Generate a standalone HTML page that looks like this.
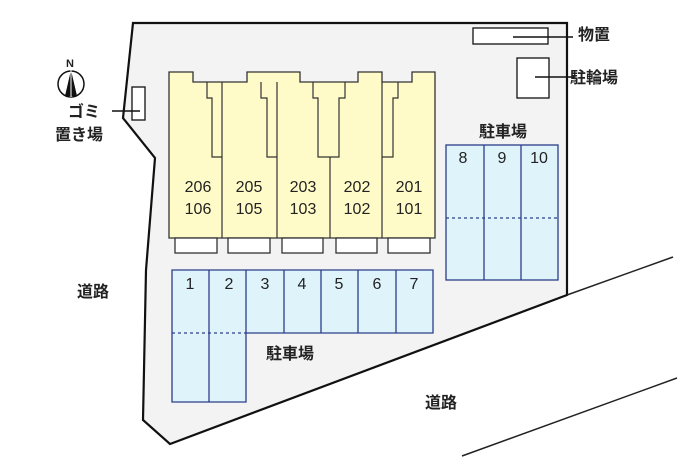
<!DOCTYPE html>
<html><head><meta charset="utf-8"><style>
html,body{margin:0;padding:0;background:#fff;width:700px;height:466px;overflow:hidden}
text{font-family:"Liberation Sans","Noto Sans CJK JP",sans-serif;fill:#222}
.j{font-weight:bold;font-size:16px}
.n{font-size:16px}
</style></head><body>
<svg width="700" height="466" viewBox="0 0 700 466" xmlns="http://www.w3.org/2000/svg">
<polygon points="133,23 567,23 567,295 170,444 143,420 146,270 155,158 123,118" fill="#f3f3f3" stroke="#111" stroke-width="2.2"/>
<line x1="567" y1="295" x2="673" y2="257" stroke="#222" stroke-width="1.5"/>
<line x1="462" y1="456" x2="677" y2="378" stroke="#222" stroke-width="1.5"/>
<!-- buildings -->
<g fill="#fffbc8" stroke="#333" stroke-width="1.3">
<polygon points="169,72 193,72 193,82 247,82 247,72 300,72 300,82 358,82 358,72 382,72 382,82 412,82 412,72 435,72 435,238 169,238"/>
</g>
<g fill="none" stroke="#333" stroke-width="1.2">
<line x1="222" y1="82" x2="222" y2="238"/><line x1="277" y1="82" x2="277" y2="238"/>
<line x1="330" y1="157" x2="330" y2="238"/><line x1="382" y1="82" x2="382" y2="238"/>
<polyline points="207,82 207,98 212,98 212,157 222,157"/>
<polyline points="261,82 261,98 267,98 267,157 277,157"/>
<polyline points="313,82 313,98 318,98 318,157 339,157 339,98 345,98 345,82"/>
<polyline points="398,82 398,98 393,98 393,157 382,157"/>
</g>
<g fill="#fff" stroke="#333" stroke-width="1.3">
<rect x="175" y="238" width="42" height="15"/><rect x="228" y="238" width="42" height="15"/>
<rect x="282" y="238" width="41" height="15"/><rect x="336" y="238" width="41" height="15"/>
<rect x="388" y="238" width="42" height="15"/>
</g>
<g class="n" text-anchor="middle">
<text x="198" y="192">206</text><text x="198" y="214">106</text>
<text x="249" y="192">205</text><text x="249" y="214">105</text>
<text x="303" y="192">203</text><text x="303" y="214">103</text>
<text x="357" y="192">202</text><text x="357" y="214">102</text>
<text x="409" y="192">201</text><text x="409" y="214">101</text>
</g>
<!-- parking 8-10 -->
<g stroke="#2b3e8a" stroke-width="1.3" fill="#dff3fb">
<rect x="446" y="145" width="112" height="135"/>
<line x1="484" y1="145" x2="484" y2="280"/><line x1="521" y1="145" x2="521" y2="280"/>
<line x1="446" y1="218" x2="558" y2="218" stroke-dasharray="3,3"/>
<polygon points="172,270 433,270 433,333 246,333 246,402 172,402"/>
<line x1="209" y1="270" x2="209" y2="402"/><line x1="246" y1="270" x2="246" y2="333"/>
<line x1="284" y1="270" x2="284" y2="333"/><line x1="321" y1="270" x2="321" y2="333"/>
<line x1="358" y1="270" x2="358" y2="333"/><line x1="396" y1="270" x2="396" y2="333"/>
<line x1="172" y1="333" x2="246" y2="333" stroke-dasharray="3,3"/>
</g>
<g class="n" text-anchor="middle">
<text x="463" y="163">8</text><text x="502" y="163">9</text><text x="539" y="163">10</text>
<text x="190" y="289">1</text><text x="229" y="289">2</text><text x="265" y="289">3</text>
<text x="302" y="289">4</text><text x="339" y="289">5</text><text x="377" y="289">6</text><text x="414" y="289">7</text>
</g>
<g class="j" text-anchor="middle">
<text x="503" y="137">駐車場</text><text x="290" y="359">駐車場</text>
<text x="93" y="297">道路</text><text x="441" y="408">道路</text>
</g>
<!-- shed / bike -->
<g fill="#fff" stroke="#111" stroke-width="1.3">
<rect x="473" y="28" width="75" height="16"/><rect x="517" y="58" width="32" height="40"/>
</g>
<line x1="513" y1="37" x2="573" y2="37" stroke="#111" stroke-width="1.5"/>
<line x1="535" y1="77" x2="575" y2="77" stroke="#111" stroke-width="1.5"/>
<text class="j" x="578" y="40">物置</text>
<text class="j" x="570" y="83">駐輪場</text>
<!-- trash -->
<rect x="132" y="87" width="13" height="33" fill="#fff" stroke="#111" stroke-width="1.3"/>
<line x1="112" y1="111" x2="140" y2="111" stroke="#111" stroke-width="1.5"/>
<text class="j" x="68" y="117">ゴミ</text>
<text class="j" x="55" y="140">置き場</text>
<!-- compass -->
<circle cx="71" cy="84" r="13" fill="#fff" stroke="#111" stroke-width="1.5"/>
<polygon points="71,70 65,96 77,96" fill="#111"/>
<line x1="71" y1="70" x2="71" y2="97" stroke="#fff" stroke-width="1"/>
<text x="66" y="67" font-size="11" font-weight="bold">N</text>
</svg>
</body></html>
